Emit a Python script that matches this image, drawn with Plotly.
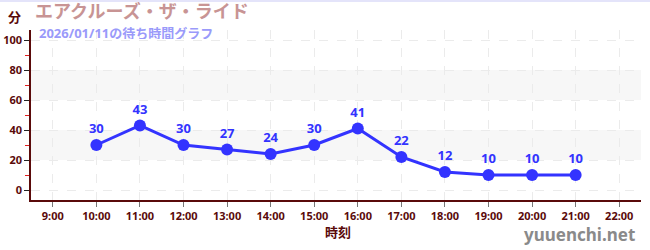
import plotly.graph_objects as go

hours = [10, 11, 12, 13, 14, 15, 16, 17, 18, 19, 20, 21]
waits = [30, 43, 30, 27, 24, 30, 41, 22, 12, 10, 10, 10]
tick_hours = list(range(9, 23))
tick_labels = [f"{h}:00" for h in tick_hours]
title = "エアクルーズ・ザ・ライド"
subtitle = "2026/01/11の待ち時間グラフ"
x_title = "時刻"
y_unit = "分"
watermark = "yuuenchi.net"

FONT = "Noto Sans, Noto Sans CJK JP, sans-serif"
AX = "#5a0a0a"
BLUE = "#3333ff"

fig = go.Figure()
fig.add_trace(go.Scatter(
    x=hours, y=waits, mode="lines+markers+text",
    text=[str(v) for v in waits], textposition="top center",
    textfont=dict(family=FONT, size=13, color=BLUE, weight="bold"),
    line=dict(color=BLUE, width=3),
    marker=dict(color=BLUE, size=12),
    hoverinfo="skip", cliponaxis=False,
))

for y0, y1 in [(20, 40), (60, 80)]:
    fig.add_shape(type="rect", xref="paper", yref="y", x0=0, x1=1, y0=y0, y1=y1,
                  fillcolor="#f7f7f7", line_width=0, layer="below")

fig.update_layout(
    width=650, height=250,
    margin=dict(l=31, r=9, t=30, b=50),
    paper_bgcolor="white", plot_bgcolor="white",
    showlegend=False,
    font=dict(family=FONT),
    xaxis=dict(
        range=[8.5, 22.5], tickvals=tick_hours, ticktext=tick_labels,
        showgrid=True, gridcolor="#ebebeb", griddash="dash", gridwidth=1,
        showline=True, linecolor=AX, linewidth=1.5,
        ticks="outside", ticklen=5, tickcolor="#777", tickwidth=1,
        tickfont=dict(family=FONT, size=11, color=AX, weight="bold"),
        zeroline=False, fixedrange=True, automargin=False,
    ),
    yaxis=dict(
        range=[-6.67, 106.67], tickvals=[0, 20, 40, 60, 80, 100],
        showgrid=True, gridcolor="#ebebeb", griddash="dash", gridwidth=1,
        showline=True, linecolor=AX, linewidth=1.5,
        ticks="outside", ticklen=5, tickcolor="#222", tickwidth=1,
        tickfont=dict(family=FONT, size=11, color=AX, weight="bold"),
        minor=dict(tickvals=[10, 30, 50, 70, 90], ticks="outside", ticklen=4,
                   tickcolor="#e02020", showgrid=False),
        zeroline=False, fixedrange=True, automargin=False,
    ),
)

fig.add_shape(type="line", xref="paper", yref="paper", x0=-31/609, x1=1 + 9/609,
              y0=1 + 29/170, y1=1 + 29/170, line=dict(color="#e4e4fa", width=2))

annots = [
    dict(text=y_unit, x=15, y=17, size=13, color=AX, xanchor="center", h=None),
    dict(text=title, x=33, y=11.5, size=18, color="#c89494", xanchor="left", h=18),
    dict(text=subtitle, x=37, y=32.5, size=13, color="#9a9afa", xanchor="left", h=13),
    dict(text=x_title, x=337, y=232, size=13, color=AX, xanchor="center", h=None),
    dict(text=watermark, x=636, y=234, size=17, color="#8a8a8a", xanchor="right", h=None),
]
for a in annots:
    kw = {}
    if a["h"]:
        kw["height"] = a["h"]
    fig.add_annotation(
        text=a["text"], xref="paper", yref="paper",
        x=(a["x"] - 31) / 609, y=(200 - a["y"]) / 170,
        xanchor=a["xanchor"], yanchor="middle", showarrow=False,
        font=dict(family=FONT, size=a["size"], color=a["color"], weight="bold"),
        **kw,
    )

fig.write_html("out.html")
